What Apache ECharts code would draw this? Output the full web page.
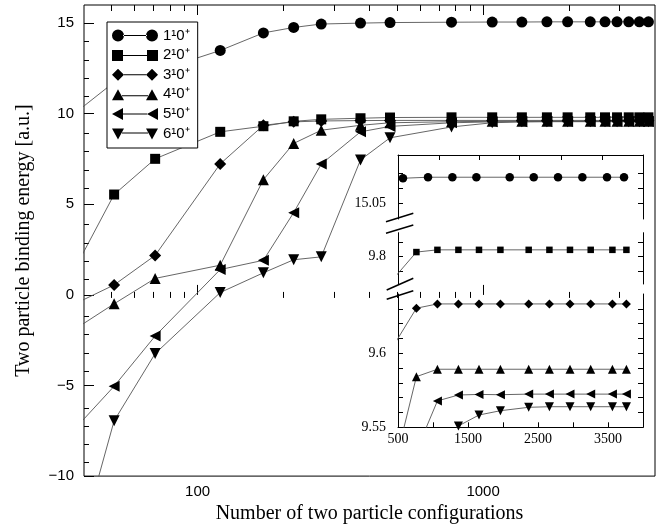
<!DOCTYPE html>
<html>
<head>
<meta charset="utf-8">
<script src="https://cdn.jsdelivr.net/npm/echarts@6/dist/echarts.min.js"></script>
<style>
html, body { margin: 0; padding: 0; background: #fff; }
#chart { width: 657px; height: 529px; }
</style>
</head>
<body>
<div id="chart"></div>
<script>
// ---- main plot data (first column lies left of the visible range, only its line shows) ----
const xMain = [30, 51, 71, 120, 170, 217, 271, 372, 472, 775, 1076, 1367, 1673, 1977, 2373, 2673, 2945, 3237, 3526, 3793];
const s1Main = [8.87, 11.74, 12.32, 13.49, 14.46, 14.76, 14.95, 15.00, 15.03, 15.05, 15.06, 15.06, 15.07, 15.07, 15.07, 15.07, 15.07, 15.07, 15.07, 15.07];
const s2Main = [-1.31, 5.54, 7.51, 9.00, 9.31, 9.58, 9.69, 9.75, 9.79, 9.80, 9.80, 9.80, 9.80, 9.80, 9.80, 9.80, 9.80, 9.80, 9.80, 9.80];
const s3Main = [-1.20, 0.55, 2.18, 7.23, 9.36, 9.55, 9.60, 9.62, 9.63, 9.63, 9.63, 9.63, 9.63, 9.63, 9.63, 9.63, 9.63, 9.63, 9.63, 9.63];
const s4Main = [-2.84, -0.49, 0.91, 1.64, 6.36, 8.36, 9.09, 9.36, 9.50, 9.56, 9.58, 9.59, 9.59, 9.59, 9.59, 9.59, 9.59, 9.59, 9.59, 9.59];
const s5Main = [-8.98, -5.04, -2.27, 1.40, 1.91, 4.54, 7.22, 9.00, 9.30, 9.50, 9.55, 9.56, 9.57, 9.57, 9.57, 9.57, 9.57, 9.57, 9.57, 9.57];
const s6Main = [-20.05, -6.95, -3.24, 0.13, 1.22, 1.94, 2.10, 7.45, 8.67, 9.27, 9.50, 9.55, 9.56, 9.56, 9.56, 9.56, 9.56, 9.56, 9.56, 9.56];

// ---- inset data ----
const xInsetCircle = [571, 929, 1277, 1620, 2096, 2439, 2786, 3134, 3486, 3729];
const s1Inset = [15.0669, 15.0676, 15.0676, 15.0676, 15.0676, 15.0676, 15.0676, 15.0676, 15.0676, 15.0676];
const xInset = [470, 763, 1063, 1363, 1657, 1963, 2367, 2663, 2957, 3253, 3563, 3763];
const s2Inset = [9.787, 9.8031, 9.8046, 9.8046, 9.8046, 9.8046, 9.8046, 9.8046, 9.8046, 9.8046, 9.8046, 9.8046];
const s3Inset = [9.6078, 9.6304, 9.6333, 9.6333, 9.6333, 9.6333, 9.6333, 9.6333, 9.6333, 9.6333, 9.6333, 9.6333];
const s4Inset = [9.5276, 9.5842, 9.5892, 9.5892, 9.5892, 9.5892, 9.5892, 9.5892, 9.5892, 9.5892, 9.5892, 9.5892];
const xInset5 = [763, 1063, 1363, 1657, 1963, 2367, 2663, 2957, 3253, 3563, 3763];
const s5Inset = [9.534, 9.5678, 9.5718, 9.5722, 9.5720, 9.5724, 9.5724, 9.5724, 9.5724, 9.5724, 9.5724];
const xInset6 = [1063, 1363, 1657, 1963, 2367, 2663, 2957, 3253, 3563, 3763];
const s6Inset = [9.535, 9.5509, 9.5583, 9.5612, 9.5635, 9.5639, 9.5639, 9.5639, 9.5639, 9.5639];

// ---- ticks / labels ----
const names = ['1\u00b90\u207a', '2\u00b90\u207a', '3\u00b90\u207a', '4\u00b90\u207a', '5\u00b90\u207a', '6\u00b90\u207a'];
const xMajor = [100, 1000];
const xMinor = [50, 60, 70, 80, 90, 200, 300, 400, 500, 600, 700, 800, 900, 2000, 3000];
const yMajor = [-10, -5, 0, 5, 10, 15];
const yMinor = [-9, -8, -7, -6, -4, -3, -2, -1, 1, 2, 3, 4, 6, 7, 8, 9, 11, 12, 13, 14];
const insetXTicks = [1000, 1500, 2000, 2500, 3000, 3500];
const insetXTopTicks = [1086, 1657, 2239, 2834, 3424];
const insetXLabels = [500, 1500, 2500, 3500];
const topSegTicks = [15.05, 15.06, 15.07];
const midSegTicks = [9.79, 9.8, 9.81];
const botSegTicks = [9.56, 9.57, 9.58, 9.59, 9.6, 9.61, 9.62, 9.63];

const SANS = 'Liberation Sans';
const SERIF = 'Liberation Serif';
const LINE = '#555';

const symbols = ['circle', 'rect', 'diamond', 'triangle', 'path://M0,5 L10,0 L10,10 Z', 'path://M0,0 L10,0 L5,10 Z'];
const mainSizes = [11, 10, 12, 11, 11, 11];
const insetSizes = [8.5, 6.5, 9, 9, 9, 9];
const legendIcons = [
  'path://M0,6 A6,6 0 1,0 12,6 A6,6 0 1,0 0,6 Z M11,5.5 L35,5.5 L35,6.5 L11,6.5 Z M34,6 A6,6 0 1,0 46,6 A6,6 0 1,0 34,6 Z',
  'path://M0,1 L11,1 L11,12 L0,12 Z M11,6 L35,6 L35,7 L11,7 Z M35,1 L46,1 L46,12 L35,12 Z M0,0 L0,0',
  'path://M0,6 L6,0 L12,6 L6,12 Z M12,5.5 L34,5.5 L34,6.5 L12,6.5 Z M34,6 L40,0 L46,6 L40,12 Z',
  'path://M0,12 L6,1 L12,12 Z M10,7 L36,7 L36,8 L10,8 Z M34,12 L40,1 L46,12 Z M0,0 L0,0',
  'path://M0,6 L11,0 L11,12 Z M11,5.5 L35,5.5 L35,6.5 L11,6.5 Z M35,6 L46,0 L46,12 Z',
  'path://M0,1 L12,1 L6,12 Z M10,5 L36,5 L36,6 L10,6 Z M34,1 L46,1 L40,12 Z M0,0 L0,0'
];

const mainY = [s1Main, s2Main, s3Main, s4Main, s5Main, s6Main];
// [x values, y values, xAxisIndex, yAxisIndex]
const insetSets = [
  [xInsetCircle, s1Inset, 4, 2],
  [xInset, s2Inset, 5, 4],
  [xInset, s3Inset, 6, 6],
  [xInset, s4Inset, 6, 6],
  [xInset5, s5Inset, 6, 6],
  [xInset6, s6Inset, 6, 6]
];

const zip = (xs, ys) => xs.map((x, i) => [x, ys[i]]);
const plain = v => String(v).replace('-', '\u2212');
const tickStyle = { color: '#000', width: 1 };

let series = [];
mainY.forEach((ys, i) => {
  series.push({
    name: names[i], type: 'line', xAxisIndex: 0, yAxisIndex: 0,
    data: zip(xMain, ys), symbol: symbols[i], symbolSize: mainSizes[i],
    itemStyle: { color: '#000', borderWidth: 0 },
    lineStyle: { color: LINE, width: 0.9 },
    clip: true, z: 3
  });
});
insetSets.forEach((set, i) => {
  series.push({
    name: 'inset ' + names[i], type: 'line', xAxisIndex: set[2], yAxisIndex: set[3],
    data: zip(set[0], set[1]), symbol: symbols[i], symbolSize: insetSizes[i],
    itemStyle: { color: '#000', borderWidth: 0 },
    lineStyle: { color: LINE, width: 0.9 },
    clip: true, z: 3
  });
});

const insetX = (grid, pos, extra) => Object.assign({
  type: 'value', gridIndex: grid, min: 500, max: 4000, position: pos,
  axisLine: { show: true, lineStyle: tickStyle },
  axisTick: { inside: true, length: 5, customValues: insetXTicks, lineStyle: tickStyle },
  axisLabel: { show: false },
  splitLine: { show: false }
}, extra);

const insetY = (grid, pos, min, max, ticks, labels) => ({
  type: 'value', gridIndex: grid, min: min, max: max, position: pos,
  axisLine: { show: true, lineStyle: tickStyle },
  axisTick: { inside: true, length: 5, customValues: ticks, lineStyle: tickStyle },
  axisLabel: labels ? { customValues: labels, formatter: plain, fontFamily: SERIF, fontSize: 14, color: '#000', margin: 12 } : { show: false },
  splitLine: { show: false }
});

const option = {
  animation: false,
  backgroundColor: '#fff',
  grid: [
    { left: 84, top: 5, width: 571, height: 476, show: true, borderColor: '#000', borderWidth: 1, backgroundColor: 'transparent' },
    { left: 84, top: 5, width: 571, height: 476 },
    { left: 398, top: 155, width: 245, height: 64 },
    { left: 398, top: 232.7, width: 245, height: 51.3 },
    { left: 398, top: 294, width: 245, height: 133.3 }
  ],
  legend: {
    orient: 'vertical', left: 107, top: 22,
    padding: [6, 8, 7, 5], itemWidth: 46, itemHeight: 12, itemGap: 4.6,
    backgroundColor: '#fff', borderColor: '#000', borderWidth: 1,
    selectedMode: false,
    itemStyle: { borderWidth: 0 },
    textStyle: { fontFamily: SANS, fontSize: 15, color: '#000', lineHeight: 14 },
    data: names.map((n, i) => ({ name: n, icon: legendIcons[i] })),
    z: 10
  },
  xAxis: [
    {
      type: 'log', logBase: 10, gridIndex: 0, min: 40, max: 4000, position: 'bottom',
      axisLine: { show: false },
      axisTick: { inside: true, length: 10, customValues: xMajor, lineStyle: tickStyle },
      axisLabel: { customValues: xMajor, formatter: plain, fontFamily: SANS, fontSize: 15, color: '#000', margin: 8 },
      splitLine: { show: false },
      name: 'Number of two particle configurations', nameLocation: 'middle', nameGap: 27,
      nameTextStyle: { fontFamily: SERIF, fontSize: 20, color: '#000' }
    },
    {
      type: 'log', logBase: 10, gridIndex: 0, min: 40, max: 4000, position: 'top',
      axisLine: { show: false },
      axisTick: { inside: true, length: 10, customValues: xMajor, lineStyle: tickStyle },
      axisLabel: { show: false }, splitLine: { show: false }
    },
    {
      type: 'log', logBase: 10, gridIndex: 1, min: 40, max: 4000, position: 'bottom',
      axisLine: { show: false },
      axisTick: { inside: true, length: 6, customValues: xMinor, lineStyle: tickStyle },
      axisLabel: { show: false }, splitLine: { show: false }
    },
    {
      type: 'log', logBase: 10, gridIndex: 1, min: 40, max: 4000, position: 'top',
      axisLine: { show: false },
      axisTick: { inside: true, length: 6, customValues: xMinor, lineStyle: tickStyle },
      axisLabel: { show: false }, splitLine: { show: false }
    },
    insetX(2, 'top', { axisTick: { inside: true, length: 5, customValues: insetXTopTicks, lineStyle: tickStyle } }),
    insetX(3, 'bottom', { show: false }),
    insetX(4, 'bottom', {
      axisLabel: { customValues: insetXLabels, formatter: plain, fontFamily: SERIF, fontSize: 14, color: '#000', margin: 5 }
    })
  ],
  yAxis: [
    {
      type: 'value', gridIndex: 0, min: -10, max: 16, position: 'left',
      axisLine: { show: false },
      axisTick: { inside: true, length: 10, customValues: yMajor, lineStyle: tickStyle },
      axisLabel: { customValues: yMajor, formatter: plain, fontFamily: SANS, fontSize: 15, color: '#000', margin: 10 },
      splitLine: { show: false },
      name: 'Two particle binding energy [a.u.]', nameLocation: 'middle', nameGap: 50,
      nameTextStyle: { fontFamily: SERIF, fontSize: 20, color: '#000' }
    },
    {
      type: 'value', gridIndex: 1, min: -10, max: 16, position: 'left',
      axisLine: { show: false },
      axisTick: { inside: true, length: 5, customValues: yMinor, lineStyle: tickStyle },
      axisLabel: { show: false }, splitLine: { show: false }
    },
    insetY(2, 'left', 15.0394, 15.0826, topSegTicks, [15.05]),
    insetY(2, 'right', 15.0394, 15.0826, topSegTicks, null),
    insetY(3, 'left', 9.7815, 9.8162, midSegTicks, [9.8]),
    insetY(3, 'right', 9.7815, 9.8162, midSegTicks, null),
    insetY(4, 'left', 9.55, 9.64, botSegTicks, [9.55, 9.6]),
    insetY(4, 'right', 9.55, 9.64, botSegTicks, null)
  ],
  graphic: [
    // axis break marks on the inset's left edge
    { type: 'line', z: 50, shape: { x1: 386, y1: 221.7, x2: 413.3, y2: 213.3 }, style: { stroke: '#000', lineWidth: 1.5 } },
    { type: 'line', z: 50, shape: { x1: 386, y1: 233.3, x2: 413.3, y2: 225 }, style: { stroke: '#000', lineWidth: 1.5 } },
    { type: 'line', z: 50, shape: { x1: 386.7, y1: 290, x2: 413.3, y2: 278.3 }, style: { stroke: '#000', lineWidth: 1.5 } },
    { type: 'line', z: 50, shape: { x1: 386.7, y1: 299.3, x2: 413.3, y2: 290.7 }, style: { stroke: '#000', lineWidth: 1.5 } }
  ],
  series: series
};

const chart = echarts.init(document.getElementById('chart'), null, { renderer: 'canvas' });
chart.setOption(option);
</script>
</body>
</html>
